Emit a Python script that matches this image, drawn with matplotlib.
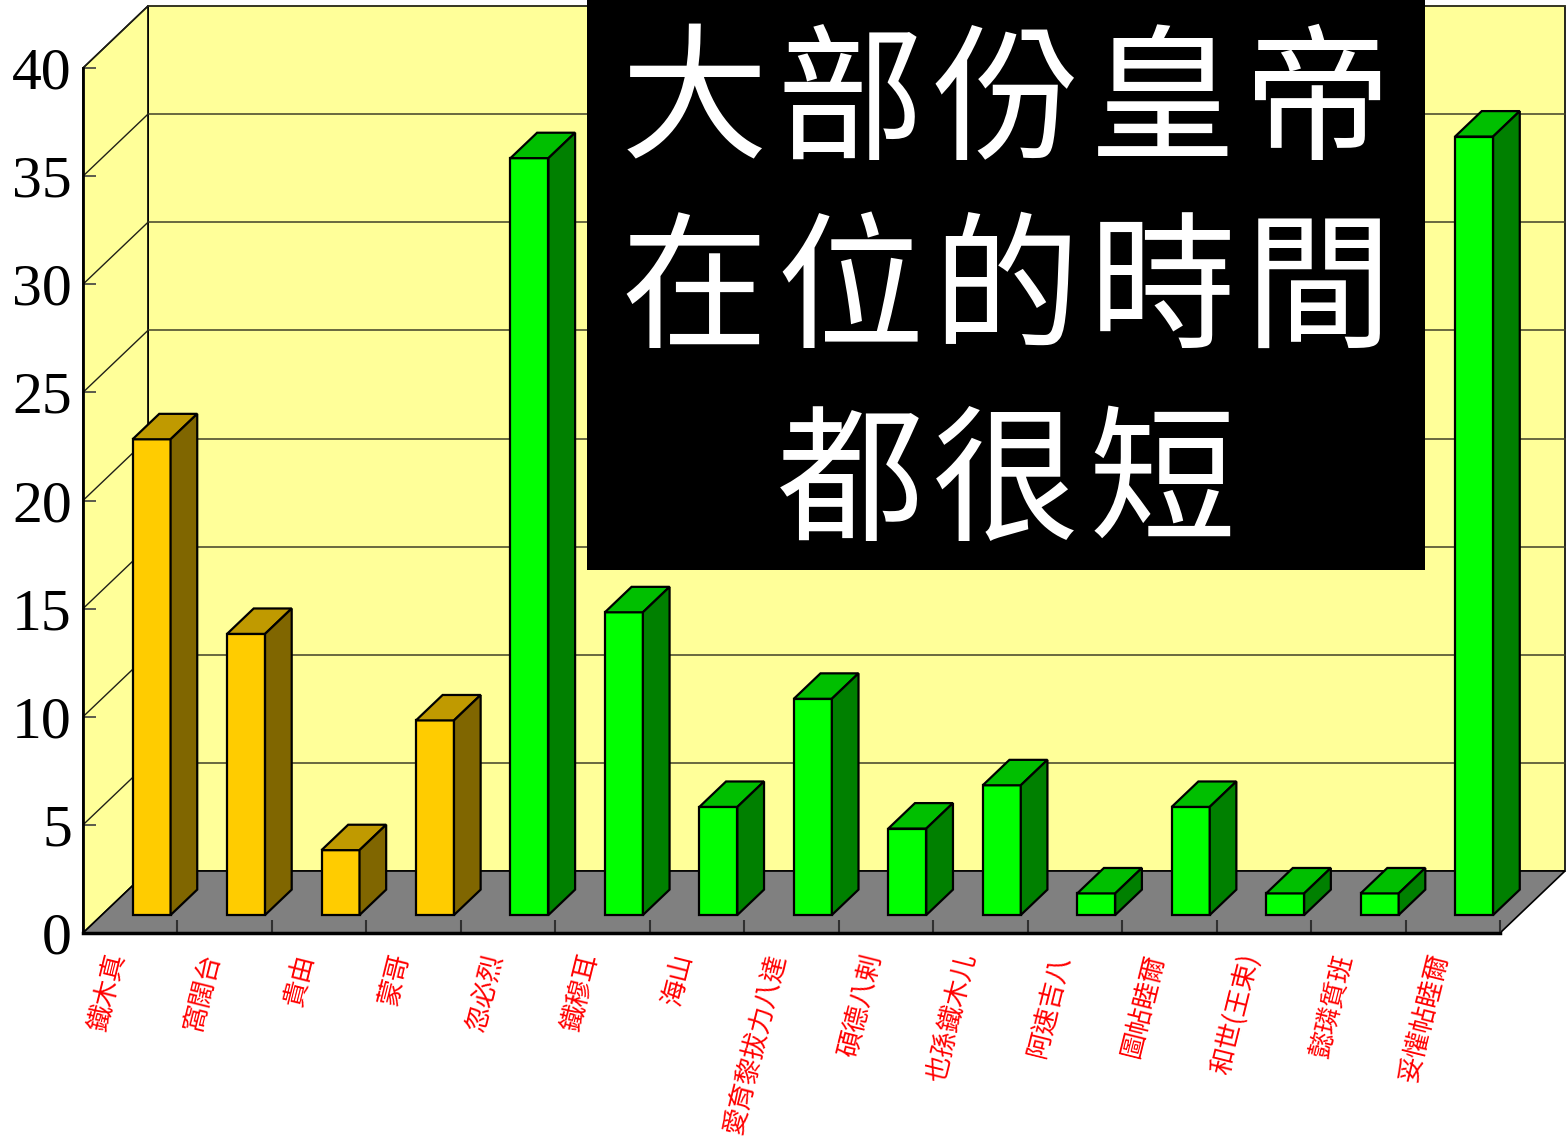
import matplotlib
matplotlib.use('Agg')
import matplotlib.pyplot as plt
from matplotlib.patches import Polygon, Rectangle
import numpy as np

plt.rcParams['font.family'] = ['Noto Sans CJK TC', 'DejaVu Sans']

# ---------------- data ----------------
emperors = ['鐵木真', '窩闊台', '貴由', '蒙哥', '忽必烈', '鐵穆耳', '海山',
            '愛育黎拔力八達', '碩德八剌', '也孫鐵木儿', '阿速吉八', '圖帖睦爾',
            '和世(王束)', '懿璘質班', '妥懽帖睦爾']
reign_years = [22, 13, 3, 9, 35, 14, 5, 10, 4, 6, 1, 5, 1, 1, 36]
is_gold = [True, True, True, True, False, False, False, False, False, False,
           False, False, False, False, False]
y_ticks = [0, 5, 10, 15, 20, 25, 30, 35, 40]
title_lines = ['大部份皇帝', '在位的時間', '都很短']

# ---------------- layout ----------------
W, H = 1566, 1139
fig = plt.figure(figsize=(W / 100, H / 100), dpi=100)
fig.patch.set_facecolor('white')
L, R, B, T = 83, 1500, 933, 68
ax = fig.add_axes([L / W, 1 - B / H, (R - L) / W, (B - T) / H])
n = len(emperors)
x0, x1 = -0.5, n - 0.5
ymax = 40
ax.set_xlim(x0, x1)
ax.set_ylim(0, ymax)
ax.patch.set_visible(False)
for s in ax.spines.values():
    s.set_visible(False)

px_x = (R - L) / n
px_y = (B - T) / ymax
DX = 65 / px_x
DY = 62 / px_y

wall_c = '#FFFF99'
# back wall
ax.add_patch(Polygon([(x0 + DX, DY), (x1 + DX, DY), (x1 + DX, ymax + DY), (x0 + DX, ymax + DY)],
                     closed=True, fc=wall_c, ec='black', lw=1.2, clip_on=False, zorder=0.5))
# left wall
ax.add_patch(Polygon([(x0, 0), (x0 + DX, DY), (x0 + DX, ymax + DY), (x0, ymax)],
                     closed=True, fc=wall_c, ec='black', lw=1.2, clip_on=False, zorder=0.5))
# floor
ax.add_patch(Polygon([(x0, 0), (x1, 0), (x1 + DX, DY), (x0 + DX, DY)],
                     closed=True, fc='#808080', ec='black', lw=1.2, clip_on=False, zorder=0.6))
# gridlines
for v in y_ticks[1:]:
    ax.plot([x0 + DX, x1 + DX], [v + DY, v + DY], color='#404028', lw=1.1, clip_on=False, zorder=0.7)
    ax.plot([x0, x0 + DX], [v, v + DY], color='#202018', lw=1.0, clip_on=False, zorder=0.7)
# front axes lines
ax.plot([x0, x0], [0, ymax], color='black', lw=2, clip_on=False, zorder=3)
ax.plot([x0, x1], [0, 0], color='black', lw=2.5, clip_on=False, zorder=3)

# ---------------- bars ----------------
f0 = 0.29
bd = 0.41
w = 38 / px_x
shift = 2.5 / px_x
front_c = ['#FFCC00' if g else '#00FF00' for g in is_gold]
top_c = ['#C09A00' if g else '#00BF00' for g in is_gold]
side_c = ['#806600' if g else '#008000' for g in is_gold]
xs = np.arange(n)
yb = f0 * DY
ax.bar(xs + f0 * DX + shift, reign_years, width=w, bottom=yb, color=front_c,
       edgecolor='black', linewidth=1.6, zorder=5, clip_on=False)
for i, v in enumerate(reign_years):
    xf = i + f0 * DX + shift - w / 2
    top = [(xf, yb + v), (xf + w, yb + v), (xf + w + bd * DX, yb + v + bd * DY),
           (xf + bd * DX, yb + v + bd * DY)]
    side = [(xf + w, yb), (xf + w + bd * DX, yb + bd * DY),
            (xf + w + bd * DX, yb + v + bd * DY), (xf + w, yb + v)]
    ax.add_patch(Polygon(top, closed=True, fc=top_c[i], ec='black', lw=1.6, zorder=5, clip_on=False))
    ax.add_patch(Polygon(side, closed=True, fc=side_c[i], ec='black', lw=1.6, zorder=5, clip_on=False))

# ---------------- ticks ----------------
ax.set_yticks(y_ticks)
ax.set_yticklabels([str(t) for t in y_ticks], family='Liberation Serif', fontsize=43)
ax.tick_params(axis='y', direction='in', length=9.5, width=1.2, pad=8, color='#404040')
ax.set_xticks(np.arange(1, n + 1) - 0.5)
ax.tick_params(axis='x', direction='in', length=9.5, width=1.5, labelbottom=False, color='#303030')

for i, name in enumerate(emperors):
    ax.text(i - 13 / px_x, -21 / px_y, name, rotation=76, rotation_mode='anchor',
            ha='right', va='center', color='red', fontsize=19, clip_on=False)

# ---------------- title box ----------------
bx0, bx1, by1 = 587, 1425, 570
fig.add_artist(Rectangle((bx0 / W, 1 - by1 / H), (bx1 - bx0) / W, by1 / H,
                         transform=fig.transFigure, fc='black', ec='none', zorder=10))
line_cy = [106, 294, 487]
pitch = 156
for line, cy in zip(title_lines, line_cy):
    k = len(line)
    for j, ch in enumerate(line):
        cx = 1006 + (j - (k - 1) / 2) * pitch
        fig.text(cx / W, 1 - cy / H, ch, color='white', fontsize=106,
                 ha='center', va='center', zorder=11)

fig.savefig('out.png', dpi=100, facecolor='white')
